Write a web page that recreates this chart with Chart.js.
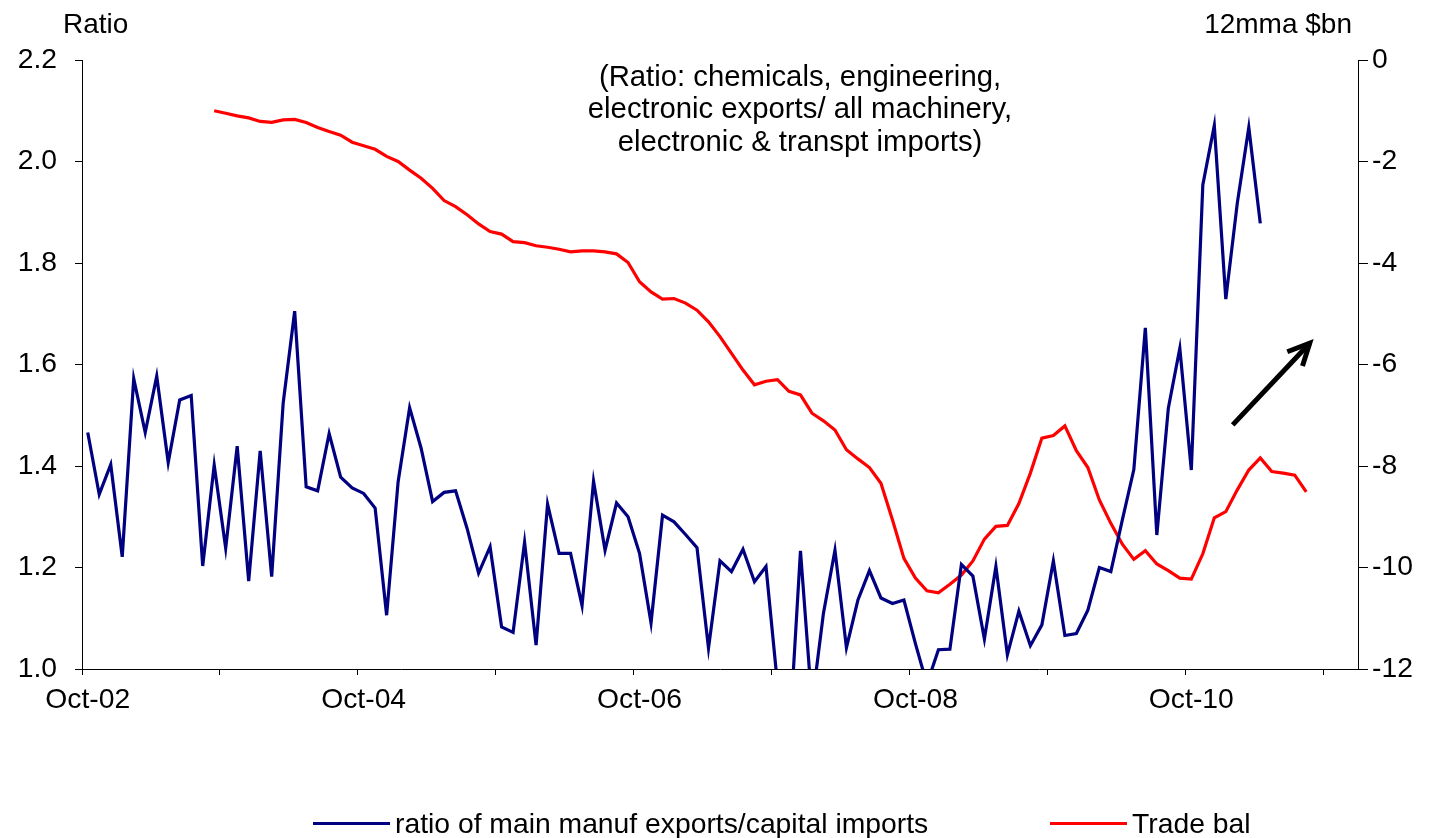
<!DOCTYPE html>
<html>
<head>
<meta charset="utf-8">
<script src="https://cdn.jsdelivr.net/npm/chart.js@4.4.1/dist/chart.umd.min.js"></script>
<style>
  html, body { margin: 0; padding: 0; background: #fff; }
  #wrap { position: relative; width: 1433px; height: 838px; }
  #legend { position: absolute; left: 0; top: 806px; width: 1433px; height: 34px;
            font: 28.3px "Liberation Sans", Arial, sans-serif; color: #000; }
  .item { position: absolute; top: 0; display: flex; align-items: center; white-space: nowrap; height: 34px; }
  .swatch { display: inline-block; width: 77px; height: 3px; margin-right: 5px; }
</style>
</head>
<body>
<div id="wrap">
  <canvas id="chart" width="1433" height="838"></canvas>
  <div id="legend">
    <div class="item" style="left:313px"><span class="swatch" style="background:#000080"></span>ratio of main manuf exports/capital imports</div>
    <div class="item" style="left:1050px"><span class="swatch" style="background:#ff0000"></span>Trade bal</div>
  </div>
</div>
<script>
  // monthly series, first month Oct-02
  const firstYear = 2002;
  const firstMonth = 9; // October
  const monthCount = 111; // Oct-02 .. Dec-11

  // ratio of main manuf exports / capital imports, Oct-02 .. Apr-11
  const ratioValues = [
    1.466, 1.344, 1.403, 1.221, 1.572, 1.466, 1.577, 1.407, 1.530, 1.539,
    1.203, 1.402, 1.238, 1.439, 1.173, 1.430, 1.182, 1.524, 1.705, 1.359,
    1.351, 1.464, 1.378, 1.357, 1.346, 1.317, 1.106, 1.369, 1.515, 1.435,
    1.330, 1.348, 1.351, 1.277, 1.189, 1.241, 1.083, 1.072, 1.250, 1.047,
    1.325, 1.228, 1.228, 1.125, 1.370, 1.234, 1.327, 1.300, 1.228, 1.091,
    1.303, 1.290, 1.265, 1.239, 1.041, 1.213, 1.192, 1.236, 1.172, 1.202,
    0.970, 0.850, 1.233, 0.930, 1.110, 1.234, 1.042, 1.136, 1.194, 1.140,
    1.129, 1.136, 1.050, 0.970, 1.038, 1.039, 1.206, 1.183, 1.059, 1.202,
    1.028, 1.114, 1.046, 1.087, 1.213, 1.066, 1.070, 1.116, 1.200, 1.192,
    1.294, 1.393, 1.672, 1.264, 1.514, 1.632, 1.392, 1.954, 2.071, 1.729,
    1.918, 2.067, 1.878
  ];

  // trade balance, 12mma $bn, Sep-03 .. Aug-11
  const tradeBalStart = 11;
  const tradeBalValues = [
    -1.00, -1.05, -1.10, -1.14, -1.21, -1.23, -1.18, -1.17, -1.23, -1.33,
    -1.41, -1.48, -1.62, -1.69, -1.76, -1.90, -2.00, -2.17, -2.33, -2.53,
    -2.77, -2.89, -3.05, -3.23, -3.38, -3.43, -3.58, -3.60, -3.66, -3.69,
    -3.73, -3.78, -3.76, -3.76, -3.78, -3.82, -3.99, -4.37, -4.57, -4.71,
    -4.70, -4.79, -4.93, -5.16, -5.45, -5.78, -6.11, -6.40, -6.33, -6.30,
    -6.53, -6.60, -6.96, -7.11, -7.29, -7.68, -7.86, -8.03, -8.34, -9.06,
    -9.82, -10.21, -10.46, -10.50, -10.33, -10.15, -9.87, -9.44, -9.19, -9.17,
    -8.74, -8.14, -7.45, -7.40, -7.21, -7.70, -8.03, -8.67, -9.13, -9.54,
    -9.84, -9.67, -9.93, -10.06, -10.21, -10.23, -9.73, -9.02, -8.90, -8.47,
    -8.08, -7.84, -8.11, -8.14, -8.18, -8.51
  ];

  const xTickPositions = [0, 12, 24, 36, 48, 60, 72, 84, 96, 108];
  const xTickLabels = ["Oct-02", "", "Oct-04", "", "Oct-06", "", "Oct-08", "", "Oct-10", ""];
  const ratioTicks = [1.0, 1.2, 1.4, 1.6, 1.8, 2.0, 2.2];
  const tradeTicks = [-12, -10, -8, -6, -4, -2, 0];

  const noteLines = [
    "(Ratio: chemicals, engineering,",
    "electronic exports/ all machinery,",
    "electronic & transpt imports)"
  ];

  // arrow in (month, ratio) units
  const arrowFrom = { x: 100.1, y: 1.481 };
  const arrowTo = { x: 106.8, y: 1.642 };

  const FONT = '"Liberation Sans", Arial, sans-serif';

  const ratioPoints = ratioValues.map((v, i) => ({ x: i + 0.5, y: v }));
  const tradePoints = tradeBalValues.map((v, i) => ({ x: tradeBalStart + i + 0.5, y: v }));

  const extrasPlugin = {
    id: "extras",
    afterDatasetsDraw(chart) {
      const { ctx, chartArea, scales } = chart;
      ctx.save();

      // arrow
      const x1 = scales.x.getPixelForValue(arrowFrom.x);
      const y1 = scales.y.getPixelForValue(arrowFrom.y);
      const x2 = scales.x.getPixelForValue(arrowTo.x);
      const y2 = scales.y.getPixelForValue(arrowTo.y);
      const ang = Math.atan2(y2 - y1, x2 - x1);
      ctx.strokeStyle = "#000";
      ctx.lineWidth = 5;
      ctx.lineCap = "butt";
      ctx.beginPath();
      ctx.moveTo(x1, y1);
      ctx.lineTo(x2, y2);
      ctx.stroke();
      ctx.lineJoin = "miter";
      ctx.beginPath();
      ctx.moveTo(x2 - 24 * Math.cos(ang - 0.45), y2 - 24 * Math.sin(ang - 0.45));
      ctx.lineTo(x2, y2);
      ctx.lineTo(x2 - 24 * Math.cos(ang + 0.45), y2 - 24 * Math.sin(ang + 0.45));
      ctx.stroke();

      // axis titles
      ctx.fillStyle = "#000";
      ctx.font = "28px " + FONT;
      ctx.textBaseline = "middle";
      ctx.textAlign = "left";
      ctx.fillText("Ratio", chartArea.left - 19, 25);
      ctx.textAlign = "right";
      ctx.fillText("12mma $bn", chartArea.right - 6, 25);

      // note
      ctx.font = "29.3px " + FONT;
      ctx.textAlign = "center";
      ctx.textBaseline = "alphabetic";
      noteLines.forEach((line, i) => {
        ctx.fillText(line, chartArea.left + 718, 85.6 + i * 32.7);
      });
      ctx.restore();
    }
  };

  new Chart(document.getElementById("chart"), {
    type: "line",
    data: {
      datasets: [
        {
          label: "ratio of main manuf exports/capital imports",
          data: ratioPoints,
          yAxisID: "y",
          borderColor: "#000080",
          borderWidth: 3.2,
          pointRadius: 0,
          tension: 0,
          fill: false
        },
        {
          label: "Trade bal",
          data: tradePoints,
          yAxisID: "y2",
          borderColor: "#ff0000",
          borderWidth: 3.2,
          pointRadius: 0,
          tension: 0,
          fill: false
        }
      ]
    },
    options: {
      responsive: false,
      devicePixelRatio: 1,
      animation: false,
      layout: { padding: { top: 60, left: 0, right: 0, bottom: 0 } },
      plugins: {
        legend: { display: false },
        tooltip: { enabled: false }
      },
      scales: {
        x: {
          type: "linear",
          min: 0,
          max: monthCount,
          afterBuildTicks(axis) { axis.ticks = xTickPositions.map(v => ({ value: v })); },
          afterFit(axis) { axis.height = 169; },
          grid: { drawOnChartArea: false, drawTicks: true, tickLength: 6, color: "#000" },
          border: { display: true, color: "#000", width: 1 },
          ticks: {
            autoSkip: false,
            maxRotation: 0,
            labelOffset: 5.75,
            padding: 8,
            color: "#000",
            font: { size: 28.3, family: FONT },
            callback: (v, i) => xTickLabels[i]
          }
        },
        y: {
          position: "left",
          min: 1.0,
          max: 2.2,
          afterBuildTicks(axis) { axis.ticks = ratioTicks.map(v => ({ value: v })); },
          afterFit(axis) { axis.width = 82; },
          grid: { drawOnChartArea: false, drawTicks: true, tickLength: 7, color: "#000" },
          border: { display: true, color: "#000", width: 1 },
          ticks: {
            padding: 18,
            color: "#000",
            font: { size: 28.3, family: FONT },
            callback: v => Number(v).toFixed(1)
          }
        },
        y2: {
          position: "right",
          min: -12,
          max: 0,
          afterBuildTicks(axis) { axis.ticks = tradeTicks.map(v => ({ value: v })); },
          afterFit(axis) { axis.width = 75; },
          grid: { drawOnChartArea: false, drawTicks: true, tickLength: 10, color: "#000" },
          border: { display: true, color: "#000", width: 1 },
          ticks: {
            padding: 4,
            color: "#000",
            font: { size: 28.3, family: FONT },
            callback: v => String(v)
          }
        }
      }
    },
    plugins: [extrasPlugin]
  });
</script>
</body>
</html>
